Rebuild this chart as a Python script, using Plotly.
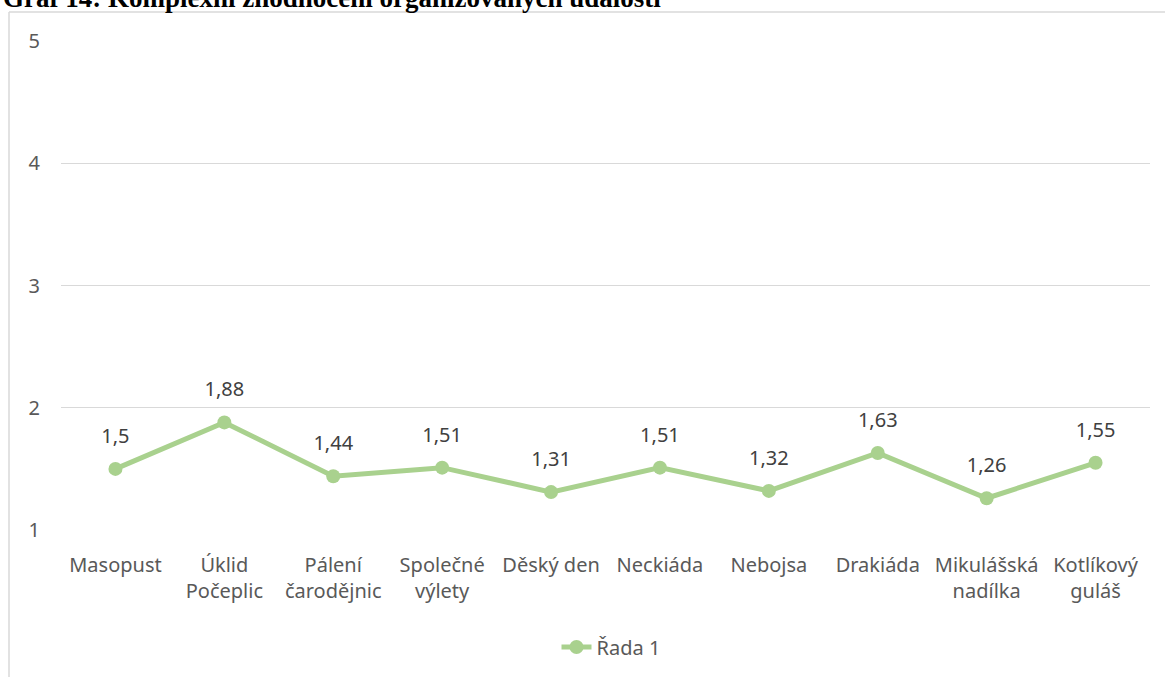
import plotly.graph_objects as go

# data
categories = ["Masopust", "Úklid<br>Počeplic", "Pálení<br>čarodějnic", "Společné<br>výlety",
              "Děský den", "Neckiáda", "Nebojsa", "Drakiáda", "Mikulášská<br>nadílka", "Kotlíkový<br>guláš"]
values = [1.5, 1.88, 1.44, 1.51, 1.31, 1.51, 1.32, 1.63, 1.26, 1.55]
series_name = "Řada 1"
y_ticks = [1, 2, 3, 4, 5]
title_text = "Graf 14: Komplexní zhodnocení organizovaných událostí"

GREEN = "#A9D18E"
FONT = "Noto Sans"
FS = 20

W, H = 1165, 677
L, R, T, B = 61, 15, 41, 146
pw, ph = W - L - R, H - T - B


def px_x(px):
    return (px - L) / pw


def px_y(py):
    return (H - B - py) / ph


xs = list(range(len(categories)))
labels = [str(v).replace(".", ",") for v in values]

fig = go.Figure()
fig.add_trace(go.Scatter(x=xs, y=values,
                         mode="lines+markers",
                         name=series_name,
                         line=dict(color=GREEN, width=5),
                         marker=dict(color=GREEN, size=14),
                         cliponaxis=False))
# data labels: invisible bigger markers push the text a bit higher above the points
fig.add_trace(go.Scatter(x=xs, y=values,
                         mode="markers+text",
                         showlegend=False, hoverinfo="skip",
                         marker=dict(color="rgba(0,0,0,0)", size=32),
                         text=labels,
                         textposition="top center",
                         textfont=dict(family=FONT, size=FS, color="#404040"),
                         cliponaxis=False))

fig.update_layout(width=W, height=H,
                  margin=dict(l=L, r=R, t=T, b=B),
                  paper_bgcolor="white", plot_bgcolor="white",
                  showlegend=True,
                  legend=dict(orientation="h", x=px_x(611), xanchor="center",
                              y=px_y(647), yanchor="middle",
                              font=dict(family=FONT, size=FS, color="#595959")),
                  xaxis=dict(tickmode="array", tickvals=xs,
                             ticktext=categories, range=[-0.5, len(categories) - 0.5],
                             showgrid=False, zeroline=False, showline=False,
                             tickfont=dict(family=FONT, size=FS, color="#595959"),
                             ticks="outside", ticklen=17, tickcolor="rgba(0,0,0,0)"),
                  yaxis=dict(range=[1, 5], tickvals=y_ticks,
                             showgrid=True, gridcolor="#D9D9D9", gridwidth=1.3,
                             zeroline=False, showline=False,
                             tickfont=dict(family=FONT, size=FS, color="#595959"),
                             ticklabelstandoff=20))

# outer chart frame (left and top only visible)
frame = dict(type="line", xref="paper", yref="paper", line=dict(color="#D9D9D9", width=1.5))
fig.add_shape(**frame, x0=px_x(9), x1=px_x(9), y0=px_y(12), y1=px_y(H + 5))
fig.add_shape(**frame, x0=px_x(9), x1=px_x(W + 5), y0=px_y(12), y1=px_y(12))

# title, partially cut off at the top like the reference
fig.add_annotation(text="<b>" + title_text + "</b>", xref="paper", yref="paper",
                   x=px_x(1), y=px_y(15), xanchor="left", yanchor="bottom",
                   showarrow=False,
                   font=dict(family="Liberation Serif", size=27, color="black"))

# the page has a default 8px body margin; remove it so the figure sits at the corner
fig.write_html("out.html", config={"displayModeBar": False},
               post_script="document.body.style.margin='0';")
